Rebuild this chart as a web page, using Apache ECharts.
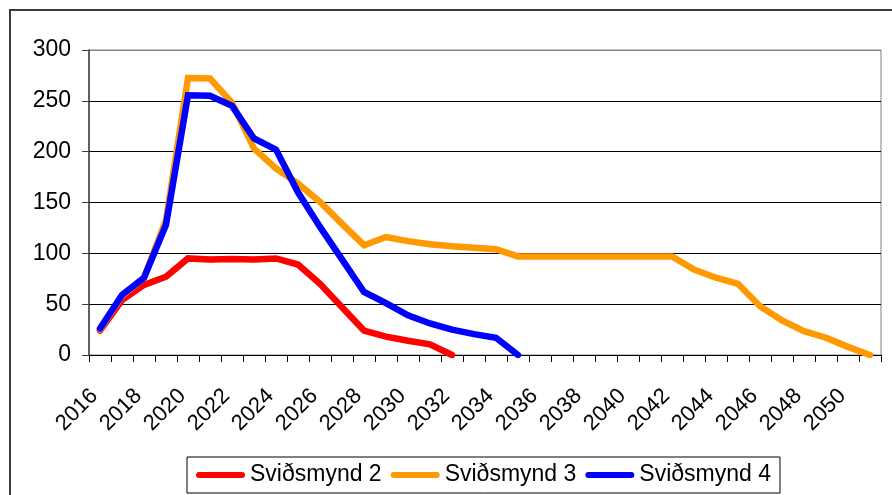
<!DOCTYPE html>
<html>
<head>
<meta charset="utf-8">
<script src="https://cdn.jsdelivr.net/npm/echarts@6/dist/echarts.min.js"></script>
<style>
html,body{margin:0;padding:0;background:#fff;}
#chart{width:892px;height:495px;}
</style>
</head>
<body>
<div id="chart"></div>
<script>
var years = [];
for (var y = 2016; y <= 2051; y++) years.push(String(y));

var seriesNames = ['Sviðsmynd 2', 'Sviðsmynd 3', 'Sviðsmynd 4'];

var svidsmynd2 = [24, 54, 69, 77, 95, 94, 94.5, 94, 95, 89, 70, 47, 24, 18, 14, 10.5, 0,
  null, null, null, null, null, null, null, null, null, null, null, null, null, null, null, null, null, null, null];

var svidsmynd3 = [25, 58, 76, 133, 272.5, 272, 248, 203, 183.5, 168.5, 150.5, 129, 108, 116, 112, 109, 107, 105.5, 104,
  97, 97, 97, 97, 97, 97, 97, 97, 84, 76, 70, 48, 34, 23.5, 17, 8, 0];

var svidsmynd4 = [26, 59, 76, 128, 255.5, 255, 245, 213, 202, 160, 126, 94, 62, 51, 39, 31, 25, 20.5, 17, 0,
  null, null, null, null, null, null, null, null, null, null, null, null, null, null, null, null];

var colors = ['#FF0000', '#FF9900', '#0000FF'];
var font = 'Liberation Sans, Arial, sans-serif';

var chart = echarts.init(document.getElementById('chart'), null, {renderer: 'canvas'});

function mk(name, data, color) {
  return {
    name: name,
    type: 'line',
    data: data,
    showSymbol: false,
    symbol: 'none',
    connectNulls: false,
    animation: false,
    lineStyle: {color: color, width: 6.5, join: 'miter', cap: 'round'},
    itemStyle: {color: color}
  };
}

var pill = 'path://M3,0 L46,0 A3,3 0 0 1 46,6 L3,6 A3,3 0 0 1 3,0 Z';

chart.setOption({
  animation: false,
  backgroundColor: '#ffffff',
  color: colors,
  graphic: [{
    type: 'rect',
    shape: {x: 10, y: 10, width: 900, height: 520},
    style: {fill: null, stroke: '#3a3a3a', lineWidth: 2},
    silent: true,
    z: 100
  }],
  grid: {
    left: 89, top: 50, right: 11, bottom: 140,
    containLabel: false,
    outerBoundsMode: 'none',
    show: true,
    borderColor: '#808080',
    borderWidth: 1,
    backgroundColor: 'transparent'
  },
  legend: {
    data: seriesNames,
    left: 187,
    top: 457,
    orient: 'horizontal',
    padding: [6, 9],
    itemGap: 9,
    itemWidth: 49,
    itemHeight: 6,
    icon: pill,
    borderColor: '#000',
    borderWidth: 1,
    textStyle: {fontFamily: font, fontSize: 23, color: '#000', lineHeight: 24}
  },
  xAxis: {
    type: 'category',
    data: years,
    boundaryGap: true,
    axisLine: {show: true, lineStyle: {color: '#000', width: 1}},
    axisTick: {show: true, interval: 0, length: 7, lineStyle: {color: '#000'}},
    axisLabel: {
      interval: 1,
      rotate: 45,
      margin: 32,
      padding: [0, 8, 17, 0],
      fontFamily: font,
      fontSize: 22,
      color: '#000'
    },
    splitLine: {show: false}
  },
  yAxis: {
    type: 'value',
    min: 0,
    max: 300,
    interval: 50,
    axisLine: {show: true, lineStyle: {color: '#404040', width: 1.5}},
    axisTick: {show: true, length: 7, lineStyle: {color: '#404040'}},
    axisLabel: {margin: 18, fontFamily: font, fontSize: 23, color: '#000'},
    splitLine: {show: true, lineStyle: {color: ['#000', '#000', '#000', '#000', '#000', '#000', '#808080'], width: 1}}
  },
  series: [
    mk(seriesNames[0], svidsmynd2, colors[0]),
    mk(seriesNames[1], svidsmynd3, colors[1]),
    mk(seriesNames[2], svidsmynd4, colors[2])
  ]
});
</script>
</body>
</html>
